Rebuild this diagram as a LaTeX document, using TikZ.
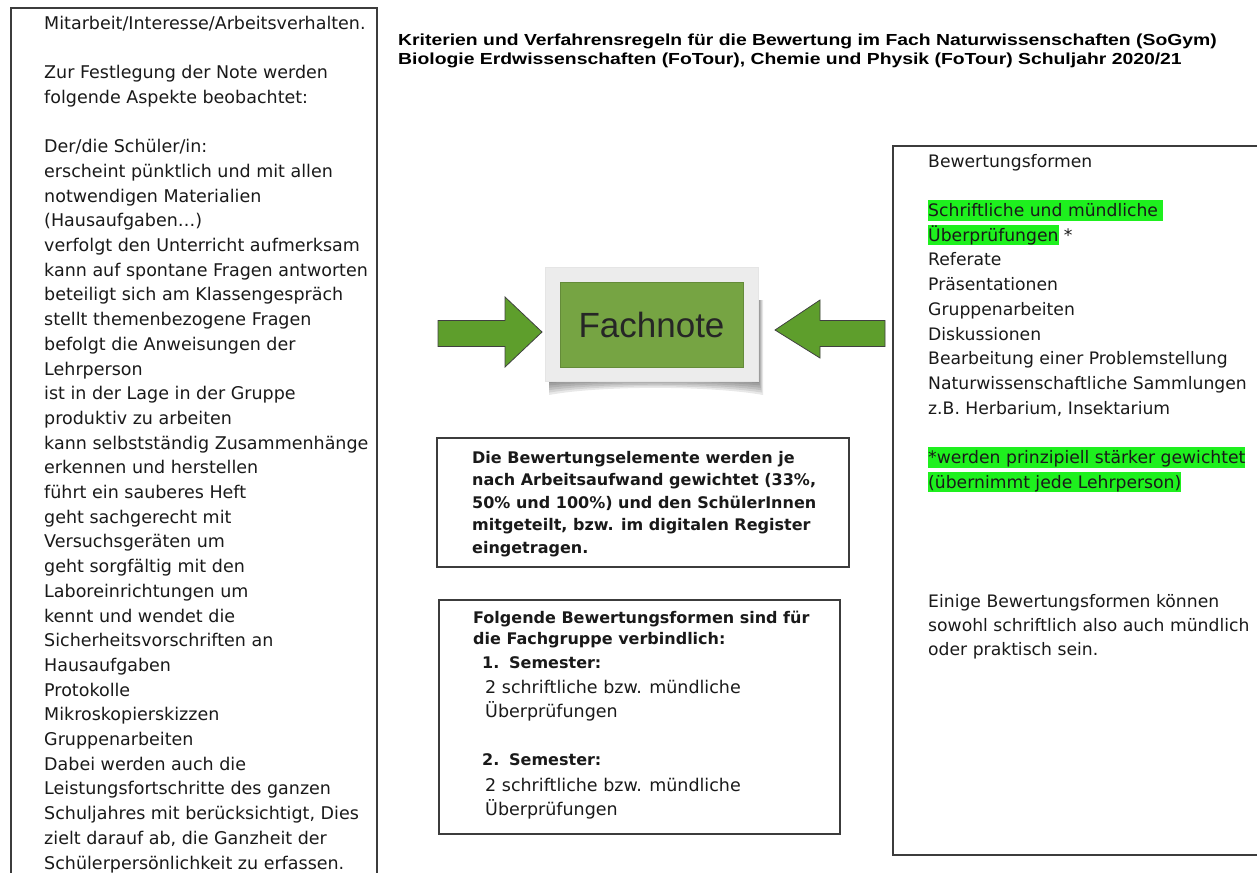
\documentclass[tikz,border=0pt]{standalone}
\usepackage{fontspec}
\setmainfont{DejaVu Sans}
\newfontfamily\titlefont[FakeStretch=1.21]{Liberation Sans}
\newfontfamily\notefont{Liberation Sans}

\definecolor{framegray}{HTML}{3C3C3C}
\definecolor{markgreen}{HTML}{1EF01E}
\definecolor{notegreen}{HTML}{76A443}
\definecolor{notegray}{HTML}{ECECEC}
\definecolor{arrowgreen}{HTML}{5E9E2C}

% green marker behind a line of text
\newcommand{\marked}[1]{{\fboxsep=0pt\colorbox{markgreen}{\rule[-4pt]{0pt}{20.5pt}#1}}}

\tikzset{
  boxframe/.style={draw=framegray, line width=1.2pt},
  bodytext/.style={anchor=north west, inner sep=0pt, align=left, text=black!90,
    font=\fontsize{17.5}{24.7}\selectfont},
  boldtext/.style={bodytext, font=\fontsize{16}{22.5}\selectfont\bfseries},
  blockarrow/.style={fill=arrowgreen, draw=black!75, line width=0.8pt},
}

\begin{document}
\begin{tikzpicture}[x=1pt,y=-1pt]
  \useasboundingbox (0,0) rectangle (1257,872);

  % Title
  \node[anchor=north west, inner sep=0pt, align=left,
        font=\titlefont\bfseries\fontsize{16}{18.5}\selectfont] (titel) at (398,32.5)
    {\strut Kriterien und Verfahrensregeln für die Bewertung im Fach Naturwissenschaften (SoGym)\\
     Biologie Erdwissenschaften (FoTour), Chemie und Physik (FoTour) Schuljahr 2020/21};

  % Left box
  \draw[boxframe] (11,873) -- (11,8) -- (377,8) -- (377,873);
  \node[bodytext] (aspekte) at (44,11.7)
    {\strut Mitarbeit/Interesse/Arbeitsverhalten.\\ \mbox{}\\
     Zur Festlegung der Note werden\\
     folgende Aspekte beobachtet:\\ \mbox{}\\
     Der/die Schüler/in:\\
     erscheint pünktlich und mit allen\\
     notwendigen Materialien\\
     (Hausaufgaben…)\\
     verfolgt den Unterricht aufmerksam\\
     kann auf spontane Fragen antworten\\
     beteiligt sich am Klassengespräch\\
     stellt themenbezogene Fragen\\
     befolgt die Anweisungen der\\
     Lehrperson\\
     ist in der Lage in der Gruppe\\
     produktiv zu arbeiten\\
     kann selbstständig Zusammenhänge\\
     erkennen und herstellen\\
     führt ein sauberes Heft\\
     geht sachgerecht mit\\
     Versuchsgeräten um\\
     geht sorgfältig mit den\\
     Laboreinrichtungen um\\
     kennt und wendet die\\
     Sicherheitsvorschriften an\\
     Hausaufgaben\\
     Protokolle\\
     Mikroskopierskizzen\\
     Gruppenarbeiten\\
     Dabei werden auch die\\
     Leistungsfortschritte des ganzen\\
     Schuljahres mit berücksichtigt, Dies\\
     zielt darauf ab, die Ganzheit der\\
     Schülerpersönlichkeit zu erfassen.};

  % Right box
  \draw[boxframe] (1259,146) -- (893,146) -- (893,855) -- (1259,855);
  \node[bodytext, font=\fontsize{17.2}{24.7}\selectfont] (formen) at (928,149.7)
    {\strut Bewertungsformen\\ \mbox{}\\
     \marked{Schriftliche und mündliche\ }\\
     \marked{Überprüfungen} *\\
     Referate\\
     Präsentationen\\
     Gruppenarbeiten\\
     Diskussionen\\
     Bearbeitung einer Problemstellung\\
     Naturwissenschaftliche Sammlungen\\
     z.B. Herbarium, Insektarium\\ \mbox{}\\
     \marked{*werden prinzipiell stärker gewichtet}\\
     \marked{(übernimmt jede Lehrperson)}};
  \node[bodytext, font=\fontsize{17.2}{24}\selectfont] (einige) at (928,590)
    {\strut Einige Bewertungsformen können\\
     sowohl schriftlich also auch mündlich\\
     oder praktisch sein.};

  % Fachnote card with shadow
  \foreach \s in {0,...,5}
    \fill[black, opacity=0.09] (549,300) -- (759+\s*0.8,300) -- (759+\s*0.8,383+\s*2.4)
      .. controls (710,379+\s*1.3) and (600,379+\s*1.3) .. (549,383+\s*2.4) -- cycle;
  \node[fill=notegray, draw=black!10, line width=0.4pt, minimum width=213pt,
        minimum height=114pt, inner sep=0pt] (karte) at (651.5,324) {};
  \node[fill=notegreen, draw=notegreen!85!black, line width=0.4pt, minimum width=183pt,
        minimum height=85pt, inner sep=0pt, text=black!85,
        font=\notefont\fontsize{35}{40}\selectfont] (fachnote) at (651.5,324.5) {Fachnote};

  % Left arrow
  \draw[blockarrow] (438,320.5) -- (505,320.5) -- (505,297) -- (542,332) -- (505,367)
    -- (505,346.5) -- (438,346.5) -- cycle;
  % Right arrow
  \draw[blockarrow] (885,320.5) -- (820,320.5) -- (820,300) -- (775,330) -- (820,358)
    -- (820,346.5) -- (885,346.5) -- cycle;

  % Middle boxes
  \draw[boxframe] (437,438) rectangle (849,567);
  \node[boldtext] (gewichtung) at (472,447.3)
    {\strut Die Bewertungselemente werden je\\
     nach Arbeitsaufwand gewichtet (33\%,\\
     50\% und 100\%) und den SchülerInnen\\
     mitgeteilt, bzw. im digitalen Register\\
     eingetragen.};

  \draw[boxframe] (439,600) rectangle (840,834);
  \node[boldtext, font=\fontsize{16}{21}\selectfont\bfseries] (verbindlich) at (473,608.3)
    {\strut Folgende Bewertungsformen sind für\\
     die Fachgruppe verbindlich:};
  \node[boldtext, anchor=base west] (semester1) at (482,668) {\makebox[27pt][l]{1.}Semester:};
  \node[bodytext] (pruefung1) at (485,675.7)
    {\strut 2 schriftliche bzw. mündliche\\ Überprüfungen};
  \node[boldtext, anchor=base west] (semester2) at (482,765) {\makebox[27pt][l]{2.}Semester:};
  \node[bodytext] (pruefung2) at (485,773.7)
    {\strut 2 schriftliche bzw. mündliche\\ Überprüfungen};
\end{tikzpicture}
\end{document}
